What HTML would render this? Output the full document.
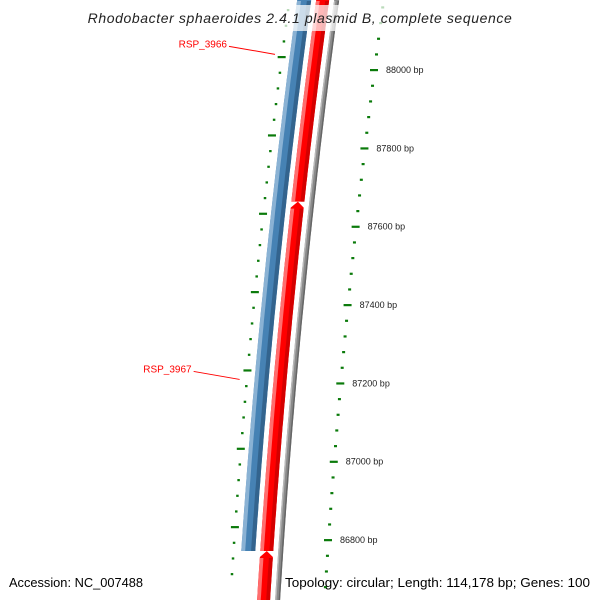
<!DOCTYPE html>
<html><head><meta charset="utf-8"><style>
html,body{margin:0;padding:0;background:#fff;overflow:hidden;}
svg{display:block;font-family:"Liberation Sans","DejaVu Sans",sans-serif;}
</style></head><body>
<svg id="chart" width="600" height="600" viewBox="0 0 600 600" xmlns="http://www.w3.org/2000/svg">
<g id="tracks"></g>
<g id="rulers"></g>
<rect x="80" y="5" width="440" height="26" fill="#fff" opacity="0.72"/>
<text x="300" y="23" text-anchor="middle" font-size="14" font-style="italic" fill="#222" letter-spacing="0.6">Rhodobacter sphaeroides 2.4.1 plasmid B, complete sequence</text>
<g id="labels"></g>
<text x="9" y="587" font-size="13" fill="#000" textLength="134" lengthAdjust="spacingAndGlyphs">Accession: NC_007488</text>
<text x="285" y="587" font-size="13" fill="#000" textLength="305" lengthAdjust="spacingAndGlyphs">Topology: circular; Length: 114,178 bp; Genes: 100</text>
</svg>
<script>
// data
const majorTicksBp = [88000, 87800, 87600, 87400, 87200, 87000, 86800];
const tickLabels = ["88000 bp","87800 bp","87600 bp","87400 bp","87200 bp","87000 bp","86800 bp"];
const minorStepBp = 40;
const redGenesStart = [87664, 86772, 86500];
const redGenesEnd   = [88300, 87664, 86772];
const blueGenesStart = [86772];
const blueGenesEnd   = [88300];
const grayStart = [86500];
const grayEnd = [88300];
const geneLabelNames = ["RSP_3966", "RSP_3967"];
const geneLabelBp = [88040, 87210];

const NS = "http://www.w3.org/2000/svg";
const pxPerBp = 0.3917;
function yOf(bp){ return 70 + (88000 - bp) * pxPerBp; }
function xRuler(y){ const d = y - 70; return 372 - 0.127 * d + 6.2e-5 * d * d; }
function mk(tag, attrs, parent){ const e = document.createElementNS(NS, tag); for (const k in attrs) e.setAttribute(k, attrs[k]); parent.appendChild(e); return e; }

const tracks = document.getElementById('tracks');
function strip(y1, y2, o1, o2, fill, tipY){
  const pts = [];
  for (let y = y1; y < y2; y += 5) pts.push([xRuler(y) + o1, y]);
  pts.push([xRuler(y2) + o1, y2]); pts.push([xRuler(y2) + o2, y2]);
  for (let y = y2; y > y1; y -= 5) pts.push([xRuler(y) + o2, y]);
  pts.push([xRuler(y1) + o2, y1]);
  if (tipY !== undefined) pts.push([xRuler(tipY) + (o1 + o2) / 2, tipY]);
  return mk('polygon', {points: pts.map(p => p[0].toFixed(1) + ',' + p[1].toFixed(1)).join(' '), fill: fill}, tracks);
}
function band(s, e, o1, o2, cols, name, tip){
  const y1 = Math.max(0, yOf(e)), y2 = Math.min(600, yOf(s));
  const top = (tip && yOf(e) > 0) ? y1 + 6 : y1;
  const p = strip(top, y2, o1, o2, cols[1], top !== y1 ? y1 : undefined);
  
  
  const w = o2 - o1;
  const h = strip(top + 1, y2, o1, o1 + w * 0.28, cols[0]);
  
  
  const sh = strip(top + 1, y2, o2 - w * 0.3, o2, cols[2]);
  
  
}
grayStart.forEach((s, i) => band(s, grayEnd[i], -47, -42, ['#b8b8b8', '#8a8a8a', '#666'], 'backbone-track', false));
blueGenesStart.forEach((s, i) => band(s, blueGenesEnd[i], -84, -70, ['#8ab2d4', '#4682b4', '#33648e'], 'gene-reverse', false));
redGenesStart.forEach((s, i) => band(s, redGenesEnd[i], -65, -52, ['#ff6e6e', '#ff0000', '#d40000'], 'gene-forward', true));

const rulers = document.getElementById('rulers');
for (let bp = 86600; bp <= 88200; bp += minorStepBp) {
  const major = bp % 200 === 0;
  const y = yOf(bp);
  if (y < 0 || y > 600) continue;
  const x = xRuler(y);
  const t = mk('rect', major ? {x: x - 2, y: y - 1, width: 8, height: 2.2, fill: '#0a7a0a'} : {x: x + 1, y: y - 1, width: 3, height: 2.2, fill: '#0a7a0a'}, rulers);
  
  
  const yl = y - 13, xl = xRuler(yl) - 92;
  if (yl < 0 || yl > 600) continue;
  const t2 = mk('rect', major ? {x: xl - 4, y: yl - 1, width: 8, height: 2.2, fill: '#0a7a0a'} : {x: xl - 1, y: yl - 1, width: 2.5, height: 2.2, fill: '#0a7a0a'}, rulers);
  
  
}
majorTicksBp.forEach((bp, i) => {
  const y = yOf(bp);
  const tx = mk('text', {x: xRuler(y) + 14, y: y + 3, 'font-size': 9, fill: '#222'}, rulers);
  tx.textContent = tickLabels[i];
  
  
});

const labels = document.getElementById('labels');
geneLabelNames.forEach((nm, i) => {
  const y = yOf(geneLabelBp[i]);
  const xe = xRuler(y) - 99;
  const yt = y - 8;
  const ln = mk('line', {x1: xe - 46, y1: yt, x2: xe, y2: y, stroke: '#f00', 'stroke-width': 1}, labels);
  
  
  const tx = mk('text', {x: xe - 48, y: yt + 1, 'text-anchor': 'end', 'font-size': 10, fill: '#f00'}, labels);
  tx.textContent = nm;
  
  
});
</script>
</body></html>
